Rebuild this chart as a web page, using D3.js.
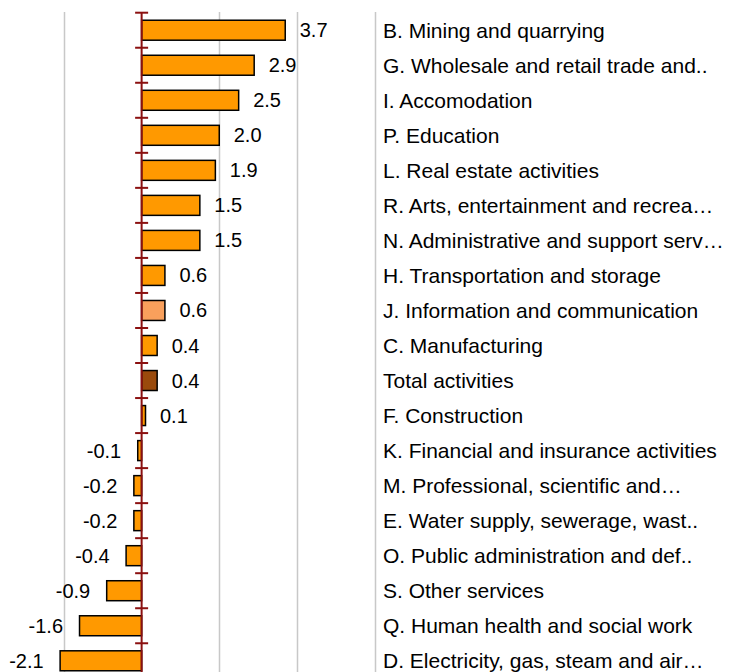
<!DOCTYPE html>
<html>
<head>
<meta charset="utf-8">
<script src="https://cdn.jsdelivr.net/npm/d3@7"></script>
<style>
  html, body { margin: 0; padding: 0; background: #fff; }
  svg { display: block; }
  text { font-family: "Liberation Sans", Arial, sans-serif; }
</style>
</head>
<body>
<div id="chart"></div>
<script>
// sectors, sorted as in the picture
const categories = [
    "B. Mining and quarrying",
    "G. Wholesale and retail trade and..",
    "I. Accomodation",
    "P. Education",
    "L. Real estate activities",
    "R. Arts, entertainment and recrea…",
    "N. Administrative and support serv…",
    "H. Transportation and storage",
    "J. Information and communication",
    "C. Manufacturing",
    "Total activities",
    "F. Construction",
    "K. Financial and insurance activities",
    "M. Professional, scientific and…",
    "E. Water supply, sewerage, wast..",
    "O. Public administration and def..",
    "S. Other services",
    "Q. Human health and social work",
    "D. Electricity, gas, steam and air…"
]
const values = [3.7, 2.9, 2.5, 2.0, 1.9, 1.5, 1.5, 0.6, 0.6, 0.4, 0.4, 0.1, -0.1, -0.2, -0.2, -0.4, -0.9, -1.6, -2.1]
const gridTicks = [-2, 2, 4, 6]

// special colours
const highlight = {
    "J. Information and communication": "#F9A05C",
    "Total activities": "#9A4A0C"
}

const width = 734
const height = 672

const data = categories.map((c, i) => ({name: c, value: values[i]}))

const x = d3.scaleLinear()
    .domain([-2, 6])
    .range([64, 374.5])

const y = d3.scaleBand()
    .domain(categories)
    .range([12.7, 678.3])
    .paddingInner(0.43)
    .paddingOuter(0.215)

const svg = d3.select("#chart").append("svg")
    .attr("width", width)
    .attr("height", height)

// gridlines
svg.append("g")
    .selectAll("line")
    .data(gridTicks)
    .join("line")
    .attr("x1", d => Math.round(x(d)) + 0.5)
    .attr("x2", d => Math.round(x(d)) + 0.5)
    .attr("y1", 12)
    .attr("y2", height)
    .attr("stroke", "#c8c8c8")
    .attr("stroke-width", 1.5)

// bars
svg.append("g")
    .selectAll("rect")
    .data(data)
    .join("rect")
    .attr("x", d => Math.min(x(0), x(d.value)))
    .attr("width", d => Math.abs(x(d.value) - x(0)))
    .attr("y", d => y(d.name))
    .attr("height", y.bandwidth())
    .attr("fill", d => highlight[d.name] || "#FF9900")
    .attr("stroke", "#000")
    .attr("stroke-width", 1.5)

// zero axis with ticks between categories
const step = y.step()
const boundaries = d3.range(categories.length + 1).map(i => 12.7 + i * step)
const axis = svg.append("g")
axis.append("line")
    .attr("x1", x(0))
    .attr("x2", x(0))
    .attr("y1", 12.7)
    .attr("y2", height)
    .attr("stroke", "#8B1010")
    .attr("stroke-width", 2)
axis.selectAll(".tick")
    .data(boundaries)
    .join("line")
    .attr("class", "tick")
    .attr("x1", x(0) - 6.5)
    .attr("x2", x(0) + 6.5)
    .attr("y1", d => d)
    .attr("y2", d => d)
    .attr("stroke", "#8B1010")
    .attr("stroke-width", 2)

// value labels
svg.append("g")
    .selectAll("text")
    .data(data)
    .join("text")
    .attr("x", d => d.value >= 0 ? x(d.value) + 14.5 : x(d.value) - 16.5)
    .attr("y", d => y(d.name) + y.bandwidth() / 2)
    .attr("dy", "0.35em")
    .attr("text-anchor", d => d.value >= 0 ? "start" : "end")
    .style("font-size", "20px")
    .attr("fill", "#000")
    .text(d => d.value.toFixed(1))

// category labels on the right
svg.append("g")
    .selectAll("text")
    .data(data)
    .join("text")
    .attr("x", 383)
    .attr("y", d => y(d.name) + y.bandwidth() / 2)
    .attr("dy", "0.35em")
    .style("font-size", "21px")
    .attr("fill", "#000")
    .text(d => d.name)
</script>
</body>
</html>
